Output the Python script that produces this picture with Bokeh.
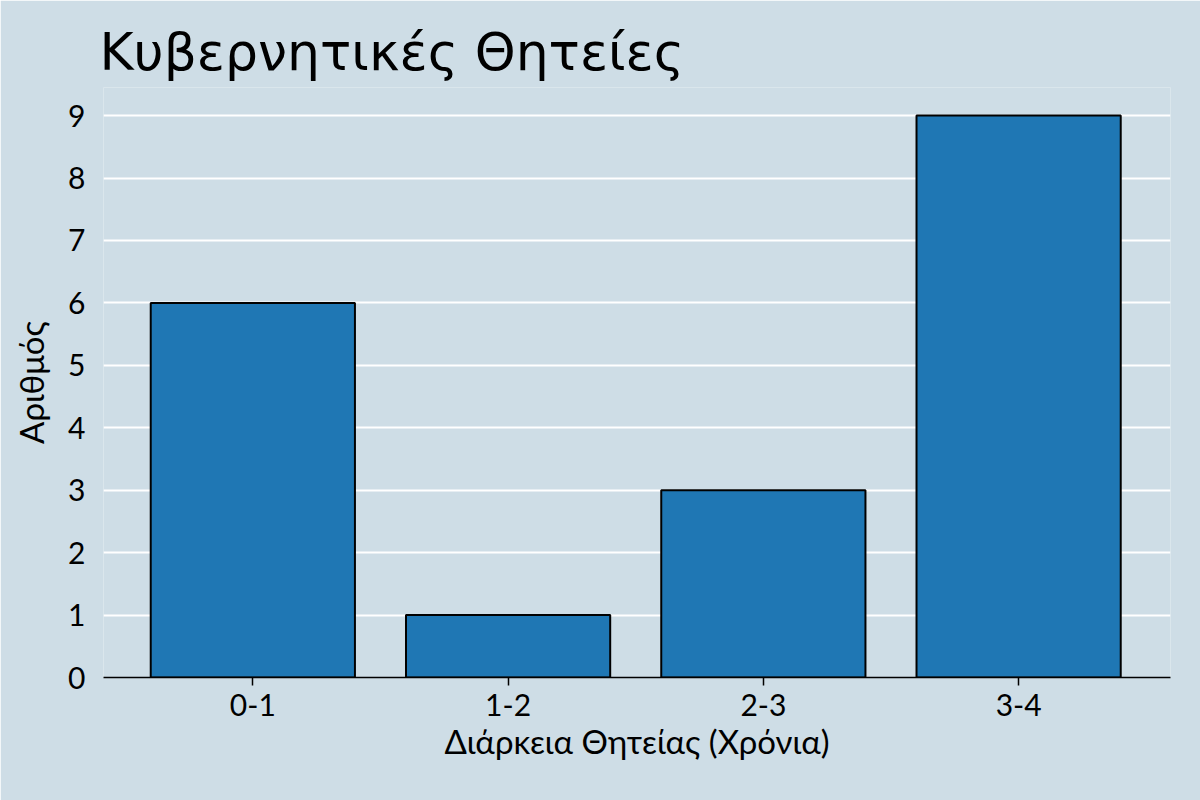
from bokeh.plotting import figure
from bokeh.embed import file_html
from bokeh.resources import INLINE
from bokeh.models import FixedTicker, Range1d, ColumnDataSource

categories = ["0-1", "1-2", "2-3", "3-4"]
counts = [6, 1, 3, 9]
positions = list(range(len(categories)))

BG = "#cedde6"
FONT = "Lato"

src = ColumnDataSource(dict(x=positions, top=counts))

p = figure(width=1200, height=800, output_backend="svg", toolbar_location=None,
           x_range=Range1d(-0.585, 3.595), y_range=Range1d(0, 9.45),
           min_border_left=103, min_border_right=30, min_border_top=87, min_border_bottom=123)
p.background_fill_color = BG
p.border_fill_color = BG
p.outline_line_color = None

p.vbar(x="x", top="top", width=0.8, bottom=0, source=src,
       fill_color="#1f77b4", line_color="black", line_width=2)

p.title.text = "Κυβερνητικές Θητείες"
p.title.text_font = "DejaVu Sans"
p.title.text_font_size = "52px"
p.title.text_font_style = "normal"
p.title.text_color = "black"
p.title.align = "left"
p.title.offset = -4
p.title.standoff = 12

p.xgrid.grid_line_color = None
p.ygrid.grid_line_color = "white"
p.ygrid.grid_line_width = 2
p.ygrid.ticker = FixedTicker(ticks=list(range(0, 10)))

p.xaxis.ticker = FixedTicker(ticks=positions)
p.xaxis.major_label_overrides = {i: c for i, c in enumerate(categories)}
p.yaxis.ticker = FixedTicker(ticks=list(range(0, 10)))

for ax in (p.xaxis, p.yaxis):
    ax.major_label_text_font = FONT
    ax.major_label_text_font_size = "30px"
    ax.major_label_text_color = "black"
    ax.axis_label_text_font = FONT
    ax.axis_label_text_font_size = "33px"
    ax.axis_label_text_font_style = "normal"
    ax.axis_label_text_color = "black"
    ax.minor_tick_line_color = None

p.xaxis.axis_label = "Διάρκεια Θητείας (Χρόνια)"
p.xaxis.axis_line_color = "black"
p.xaxis.axis_line_width = 1.5
p.xaxis.major_tick_line_color = "black"
p.xaxis.major_tick_line_width = 1.5
p.xaxis.major_tick_out = 8
p.xaxis.major_tick_in = 0
p.xaxis.major_label_standoff = 8
p.xaxis.axis_label_standoff = 2

p.yaxis.axis_label = "Αριθμός"
p.yaxis.axis_line_color = None
p.yaxis.major_tick_line_color = None
p.yaxis.major_label_standoff = 12
p.yaxis.axis_label_standoff = 14

open("out.html", "w").write(file_html(p, INLINE))
